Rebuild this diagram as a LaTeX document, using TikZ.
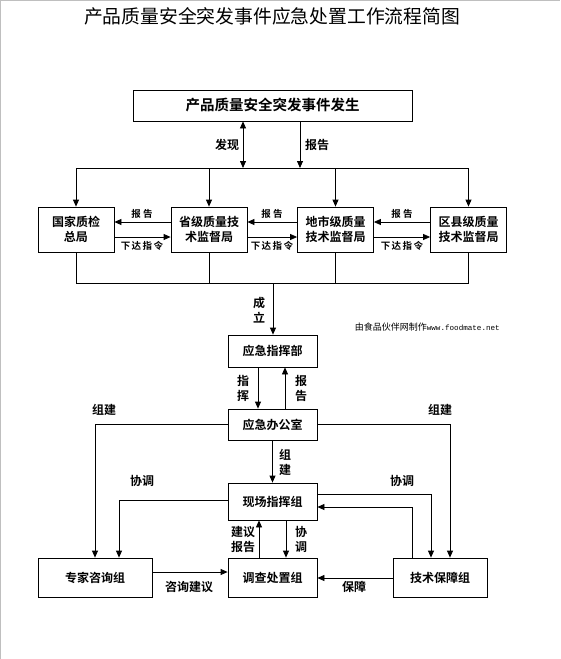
\documentclass[tikz,border=0pt]{standalone}
\usepackage{fontspec}
\setmainfont{Noto Sans CJK SC}[BoldFont={Noto Sans CJK SC Bold}]
\newfontfamily\wmmono{Liberation Mono}
\usetikzlibrary{arrows.meta}
\newcommand{\xdl}{下\hspace{1.5pt}达\hspace{1.5pt}指\hspace{1.5pt}令}
\begin{document}
\begin{tikzpicture}[x=1pt,y=-1pt,
  box/.style={draw, line width=0.8pt, inner sep=0pt, align=center, font=\bfseries\fontsize{12}{15}\selectfont},
  arr/.style={line width=0.8pt, -{Triangle[length=7pt,width=6pt]}},
  ln/.style={line width=0.8pt},
  lbl/.style={inner sep=0pt, align=center, font=\bfseries\fontsize{12}{15}\selectfont},
  slbl/.style={inner sep=0pt, font=\bfseries\fontsize{9.5}{11}\selectfont}]
\useasboundingbox (0,0) rectangle (560,659);
\fill[white] (0,0) rectangle (560,659);
\draw[black!25, line width=1.2pt] (0.6,659) -- (0.6,0.6) -- (560,0.6);

\node[inner sep=0pt, font=\fontsize{18.8}{20}\selectfont] (title) at (272,16) {产品质量安全突发事件应急处置工作流程简图};

\node[box, minimum width=279pt, minimum height=31pt, font=\bfseries\fontsize{14.5}{17}\selectfont] (top) at (272.5,105.5) {产品质量安全突发事件发生};

\node[box, minimum width=76pt, minimum height=45pt] (g1) at (76,229.5) {国家质检\\总局};
\node[box, minimum width=76pt, minimum height=45pt] (g2) at (209,229.5) {省级质量技\\术监督局};
\node[box, minimum width=76pt, minimum height=45pt] (g3) at (335.5,229.5) {地市级质量\\技术监督局};
\node[box, minimum width=76pt, minimum height=45pt] (g4) at (468.5,229.5) {区县级质量\\技术监督局};

\node[box, minimum width=89pt, minimum height=32pt] (zhb) at (272.5,351) {应急指挥部};
\node[box, minimum width=89pt, minimum height=31pt] (bgs) at (272.5,424.5) {应急办公室};
\node[box, minimum width=89pt, minimum height=37pt] (xc) at (272.5,501.5) {现场指挥组};
\node[box, minimum width=114pt, minimum height=39pt] (zj) at (95,577.5) {专家咨询组};
\node[box, minimum width=89pt, minimum height=39pt] (dc) at (272.5,577.5) {调查处置组};
\node[box, minimum width=94pt, minimum height=39pt] (js) at (440,577.5) {技术保障组};

% top bus
\coordinate (busA) at (0,168);
\coordinate (fx) at (243,168);
\coordinate (bg) at (300,168);
\draw[ln, {Triangle[length=7pt,width=6pt]}-{Triangle[length=7pt,width=6pt]}] (top.south -| fx) -- (fx);
\draw[arr] (top.south -| bg) -- (bg);
\draw[ln] (g1.north |- busA) -- (g4.north |- busA);
\foreach \g in {g1,g2,g3,g4} \draw[arr] (\g.north |- busA) -- (\g.north);
\node[lbl] at (227,145) {发现};
\node[lbl] at (317,145) {报告};

% between boxes
\draw[arr] ([yshift=7.5pt]g2.west) -- ([yshift=7.5pt]g1.east);
\draw[arr] ([yshift=-7.5pt]g1.east) -- ([yshift=-7.5pt]g2.west);
\draw[arr] ([yshift=7.5pt]g3.west) -- ([yshift=7.5pt]g2.east);
\draw[arr] ([yshift=-7.5pt]g2.east) -- ([yshift=-7.5pt]g3.west);
\draw[arr] ([yshift=7.5pt]g4.west) -- ([yshift=7.5pt]g3.east);
\draw[arr] ([yshift=-7.5pt]g3.east) -- ([yshift=-7.5pt]g4.west);
\node[slbl] at (142,214) {报 告};
\node[slbl] at (142,245.5) {\xdl};
\node[slbl] at (272,214) {报 告};
\node[slbl] at (272,245.5) {\xdl};
\node[slbl] at (402,214) {报 告};
\node[slbl] at (402,245.5) {\xdl};

% bottom bus
\coordinate (busB) at (0,283);
\coordinate (cl) at (273,283);
\foreach \g in {g1,g2,g3,g4} \draw[ln] (\g.south) -- (\g.south |- busB);
\draw[ln] (g1.south |- busB) -- (g4.south |- busB);
\draw[arr] (cl) -- (zhb.north -| cl);
\node[lbl] at (259,310.5) {成\\立};
\node[inner sep=0pt, anchor=east] (wm) at (500,327) {\fontsize{9}{10}\selectfont 由食品伙伴网制作\wmmono\fontsize{7.6}{9}\selectfont www.foodmate.net};

% command / report
\draw[arr] ([xshift=-14.5pt]zhb.south) -- ([xshift=-14.5pt]bgs.north);
\draw[arr] ([xshift=12.5pt]bgs.north) -- ([xshift=12.5pt]zhb.south);
\node[lbl] at (243,388.5) {指\\挥};
\node[lbl] at (301,388.5) {报\\告};

% build
\draw[arr] (bgs.west) -| (zj.north);
\draw[arr] (bgs.east) -| ([xshift=10pt]js.north);
\node[lbl] at (104,410) {组建};
\node[lbl] at (440,410) {组建};
\draw[arr] (bgs.south) -- (xc.north);
\node[lbl] at (285,462) {组\\建};

% coordinate
\draw[arr] ([yshift=1.5pt]xc.west) -| ([xshift=24pt]zj.north);
\draw[arr] ([yshift=7.5pt]xc.east) -| ([xshift=-9pt]js.north);
\draw[arr] ([xshift=-28pt]js.north) |- ([yshift=-5.5pt]xc.east);
\node[lbl] at (142,481) {协调};
\node[lbl] at (402,481) {协调};

\draw[arr] ([xshift=-13.5pt]dc.north) -- ([xshift=-13.5pt]xc.south);
\draw[arr] ([xshift=13.5pt]xc.south) -- ([xshift=13.5pt]dc.north);
\node[lbl] at (243,539.5) {建议\\报告};
\node[lbl] at (301,539.5) {协\\调};

\draw[arr] ([yshift=5.5pt]zj.east) -- ([yshift=5.5pt]dc.west);
\draw[arr] ([yshift=-0.5pt]js.west) -- ([yshift=-0.5pt]dc.east);
\node[lbl] at (189,587) {咨询建议};
\node[lbl] at (354,587) {保障};
\end{tikzpicture}
\end{document}
